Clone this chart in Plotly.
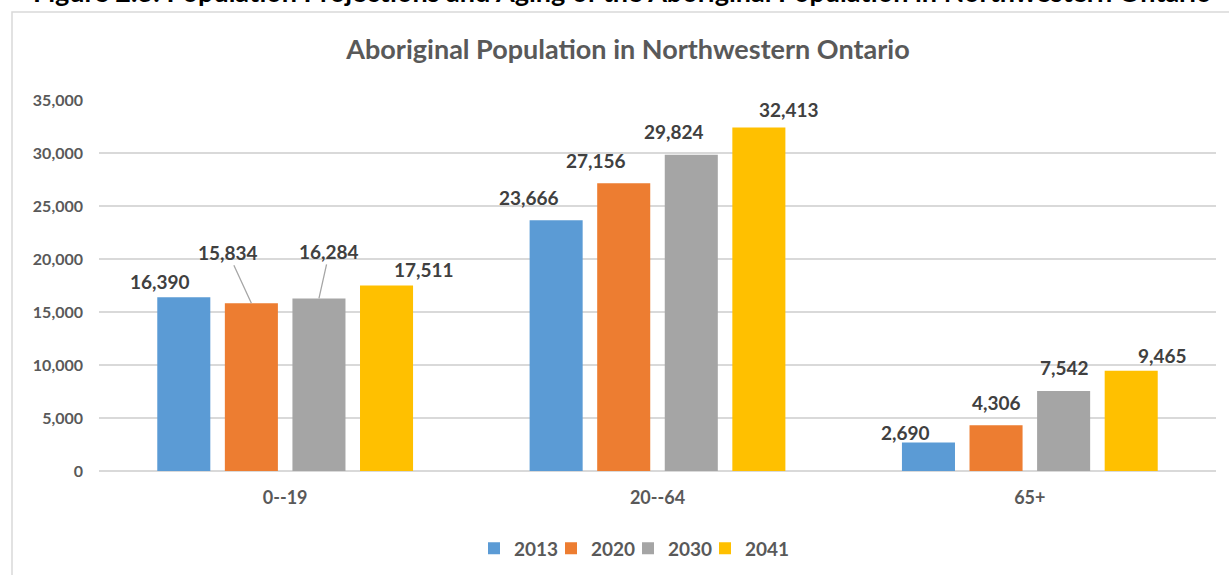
import plotly.graph_objects as go

# Age groups and projection years
age_groups = ["0--19", "20--64", "65+"]
years = ["2013", "2020", "2030", "2041"]

pop_2013 = [16390, 23666, 2690]
pop_2020 = [15834, 27156, 4306]
pop_2030 = [16284, 29824, 7542]
pop_2041 = [17511, 32413, 9465]

y_ticks = [0, 5000, 10000, 15000, 20000, 25000, 30000, 35000]
y_tick_text = ["0", "5,000", "10,000", "15,000", "20,000", "25,000", "30,000", "35,000"]

series = [pop_2013, pop_2020, pop_2030, pop_2041]
colors = ["#5B9BD5", "#ED7D31", "#A5A5A5", "#FFC000"]

# Figure geometry
W, H = 1229, 575
M_L, M_R, M_T, M_B = 99, 13, 100, 103.5
BARGAP, BARGROUPGAP = 0.274, 0.215
plot_w = W - M_L - M_R
plot_h = H - M_T - M_B
cat_px = plot_w / len(age_groups)
slot_px = cat_px * (1 - BARGAP) / len(years)

# Label nudges in pixels (dx from bar centre, dy from bar top), and leader-line flags
label_nudge = [
    [(-24, -16), (-27.5, -23), (-22.5, -10)],
    [(-23.5, -51), (-27.5, -23), (0, -23)],
    [(10.5, -47), (-17, -23), (1, -24)],
    [(37, -16), (30.5, -18), (31, -15)],
]
leader = [
    [False, False, False],
    [True, False, False],
    [True, False, False],
    [False, False, False],
]

FONT = "Lato"
LEGEND_ENTRY = 32
fig = go.Figure()
for yr, vals, col in zip(years, series, colors):
    fig.add_trace(go.Bar(
        name=yr, x=age_groups, y=vals, marker=dict(color=col, line=dict(width=0)),
    ))
# Empty spacer entry so the compact legend keeps room for the last label
fig.add_trace(go.Scatter(
    x=[None], y=[None], mode="markers", name=" ",
    marker=dict(color="rgba(0,0,0,0)", size=1, line=dict(width=0)),
    hoverinfo="skip",
))

annotations = []
for si, vals in enumerate(series):
    offset = (si - (len(years) - 1) / 2) * slot_px
    for ci, v in enumerate(vals):
        dx, dy = label_nudge[si][ci]
        text = f"{v:,}"
        font = dict(family=FONT, size=19, color="#404040", weight=700)
        if leader[si][ci]:
            annotations.append(dict(
                x=age_groups[ci], y=v, xref="x", yref="y", xshift=offset,
                text=text, font=font, showarrow=True, arrowhead=0,
                arrowwidth=1.3, arrowcolor="#A6A6A6", ax=dx, ay=dy,
                standoff=0, startstandoff=0,
            ))
        else:
            annotations.append(dict(
                x=age_groups[ci], y=v, xref="x", yref="y",
                xshift=offset + dx, yshift=-dy, yanchor="middle",
                text=text, font=font, showarrow=False,
            ))

# Document caption above the chart frame
annotations.append(dict(
    x=(32 - M_L) / plot_w, y=1 + (M_T - 9) / plot_h, xref="paper", yref="paper",
    xanchor="left", yanchor="bottom", showarrow=False, borderpad=0,
    text="Figure 2.3: Population Projections and Aging of the Aboriginal Population in Northwestern Ontario",
    font=dict(family=FONT, size=27, color="#000000", weight=700),
))

fig.update_layout(
    width=W, height=H,
    margin=dict(l=M_L, r=M_R, t=M_T, b=M_B, autoexpand=False),
    paper_bgcolor="white", plot_bgcolor="white",
    barmode="group", bargap=BARGAP, bargroupgap=BARGROUPGAP,
    title=dict(
        text="Aboriginal Population in Northwestern Ontario",
        x=628 / W, xref="container", xanchor="center",
        y=1 - 50 / H, yref="container", yanchor="middle",
        font=dict(family=FONT, size=27, color="#595959", weight=700),
    ),
    xaxis=dict(
        showgrid=False, showline=False, zeroline=False, ticks="",
        tickfont=dict(family=FONT, size=18, color="#595959", weight=700),
        ticklabelstandoff=14,
    ),
    yaxis=dict(
        range=[0, 35000], tickvals=y_ticks, ticktext=y_tick_text,
        showgrid=True, gridcolor="#D9D9D9", gridwidth=1.5,
        zeroline=True, zerolinecolor="#D9D9D9", zerolinewidth=1.5,
        showline=False, ticks="",
        tickfont=dict(family=FONT, size=16, color="#595959", weight=700),
        ticklabelstandoff=15,
    ),
    legend=dict(
        orientation="h", x=(628 + 38.5 - M_L) / plot_w, xanchor="center",
        y=(M_T + plot_h - 549) / plot_h, yanchor="middle",
        font=dict(family=FONT, size=19, color="#595959", weight=700),
        traceorder="normal", itemwidth=30,
        entrywidth=LEGEND_ENTRY, entrywidthmode="pixels",
        itemclick=False, itemdoubleclick=False,
    ),
    annotations=annotations,
    shapes=[dict(
        type="rect", xref="paper", yref="paper", layer="below",
        x0=(12 - M_L) / plot_w, x1=(1300 - M_L) / plot_w,
        y0=(M_T + plot_h - 700) / plot_h, y1=1 + (M_T - 12) / plot_h,
        line=dict(color="#D9D9D9", width=1.5), fillcolor="rgba(0,0,0,0)",
    )],
)

fig.write_html("out.html")
